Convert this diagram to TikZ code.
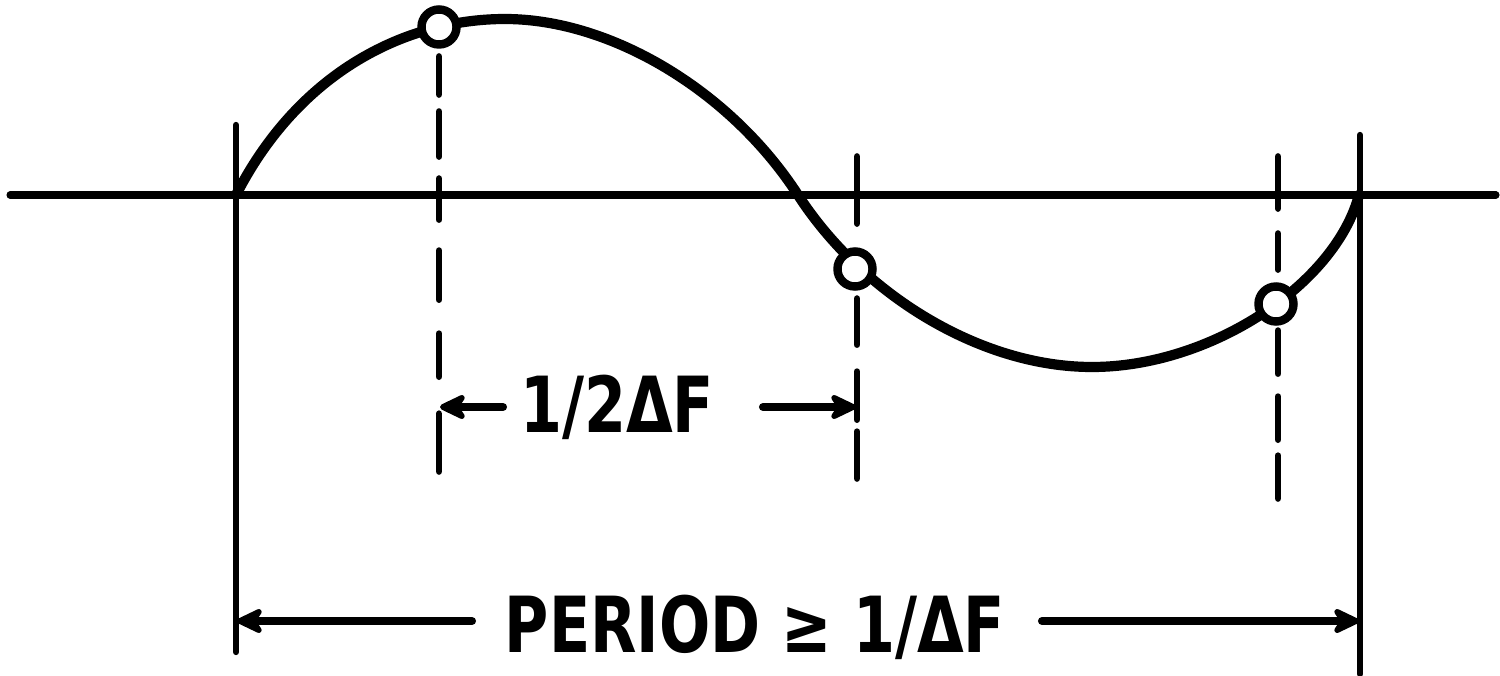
\documentclass[tikz,border=0pt]{standalone}
\usepackage{fontspec}
\setmainfont{DejaVu Sans}
\usetikzlibrary{arrows.meta}
\begin{document}
\begin{tikzpicture}[x=0.01cm,y=-0.01cm,
  axisline/.style={line width=2pt, line cap=round},
  solidv/.style={line width=1.8pt, line cap=round},
  dashv/.style={line width=1.9pt, line cap=round},
  wave/.style={line width=2.9pt, line cap=round},
  ring/.style={circle, draw, line width=2.4pt, fill=white, minimum size=0.35cm, inner sep=0pt},
  dimarrow/.style={line width=2.3pt, line cap=round, -{Stealth[length=9.5pt,width=9pt,inset=3pt,round]}},
  lbl/.style={font=\fontsize{22}{22}\selectfont\bfseries, inner sep=0pt, anchor=base}]
\useasboundingbox (0,0) rectangle (1500,676);

% coordinates
\coordinate (axL) at (10,195);
\coordinate (axR) at (1496,195);
\coordinate (vLt) at (236,125);
\coordinate (vLb) at (236,652);
\coordinate (vRt) at (1360,135);
\coordinate (vRb) at (1360,674);
\coordinate (d1t) at (439,56.5);
\coordinate (d1b) at (439,471.5);
\coordinate (d2t) at (857,156.5);
\coordinate (d2b) at (857,478.5);
\coordinate (d3t) at (1278,156.5);
\coordinate (d3b) at (1278,498.5);
\coordinate (S) at (236,195);
\coordinate (P) at (505,19);
\coordinate (Z) at (798,195);
\coordinate (M) at (1092,367);
\coordinate (E) at (1359,195);

% dashed verticals
\draw[dashv, dash pattern=on 0.38cm off 0.17cm on 0.45cm off 0.22cm on 0.41cm off 0.31cm on 0.49cm off 0.34cm on 0.43cm off 0.37cm on 0.58cm off 1cm] (d1t) -- (d1b);
\draw[dashv, dash pattern=on 0.67cm off 0.75cm on 0.46cm off 0.27cm on 0.48cm off 0.12cm on 0.47cm off 1cm] (d2t) -- (d2b);
\draw[dashv, dash pattern=on 0.52cm off 0.25cm on 0.36cm off 0.61cm on 0.43cm off 0.23cm on 0.43cm off 0.16cm on 0.43cm off 1cm] (d3t) -- (d3b);

% axis and solid verticals
\draw[axisline] (axL) -- (axR);
\draw[solidv] (vLt) -- (vLb);
\draw[solidv] (vRt) -- (vRb);

% wave
\draw[wave] (S) .. controls (300,70) and (408,19) .. (P)
  .. controls (610,19) and (730,90) .. (Z)
  .. controls (862,294) and (980,367) .. (M)
  .. controls (1210,367) and (1335,285) .. (E);

% sample points
\node[ring] (c1) at (439,27) {};
\node[ring] (c2) at (855,269) {};
\node[ring] (c3) at (1276,304) {};

% half-period dimension
\node[lbl] (half) at (617,432) {\scalebox{0.78}[1]{1/2ΔF}};
\coordinate (h1s) at (503,407);
\coordinate (h1e) at (440,407);
\coordinate (h2s) at (763,407);
\coordinate (h2e) at (856,407);
\draw[dimarrow] (h1s) -- (h1e);
\draw[dimarrow] (h2s) -- (h2e);

% period dimension
\node[lbl] (per) at (755,652) {\scalebox{0.78}[1]{PERIOD ≥ 1/ΔF}};
\coordinate (p1s) at (472,621);
\coordinate (p1e) at (237,621);
\coordinate (p2s) at (1042,621);
\coordinate (p2e) at (1359,621);
\draw[dimarrow] (p1s) -- (p1e);
\draw[dimarrow] (p2s) -- (p2e);
\end{tikzpicture}
\end{document}
